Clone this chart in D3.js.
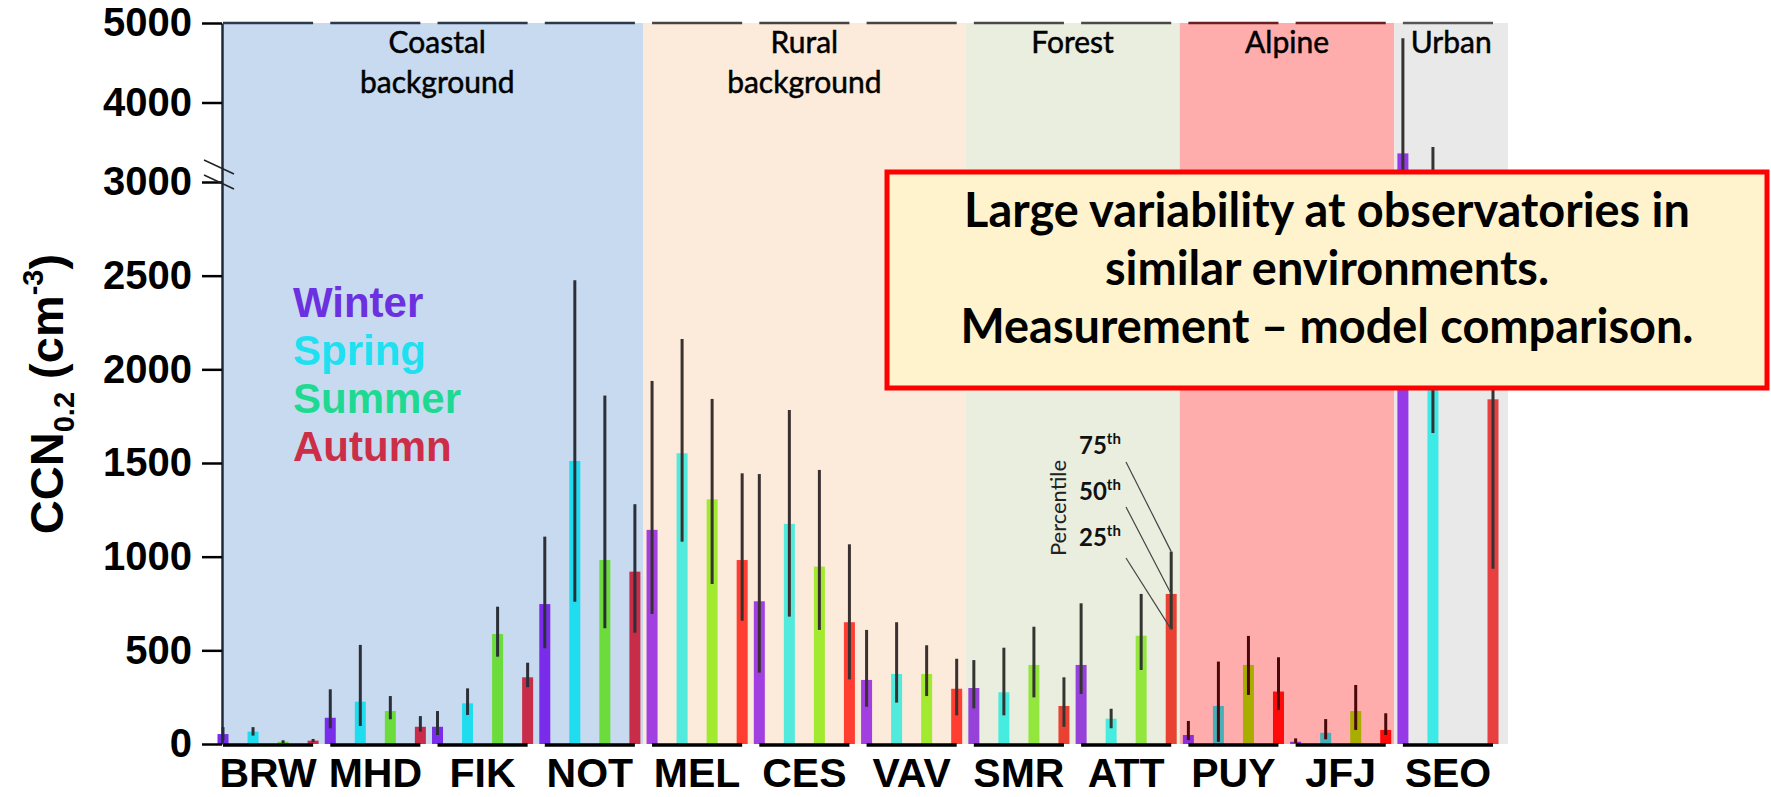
<!DOCTYPE html>
<html>
<head>
<meta charset="utf-8">
<script src="https://cdn.jsdelivr.net/npm/d3@7"></script>
<style>
body{margin:0;background:#fff;}
</style>
</head>
<body>
<svg id="chart"></svg>
<script>
// sites (x categories) and seasons
var sites=["BRW","MHD","FIK","NOT","MEL","CES","VAV","SMR","ATT","PUY","JFJ","SEO"];
var seasons=["Winter","Spring","Summer","Autumn"];
// environment groups
var regionLabels=[["Coastal","background"],["Rural","background"],["Forest"],["Alpine"],["Urban"]];
var regionOfSite=[0,0,0,0,1,1,1,2,2,3,3,4];
var yTicks=[0,500,1000,1500,2000,2500,3000,4000,5000];

// median (bar), 25th and 75th percentile (line), per site: [winter,spring,summer,autumn]
var p50=[[53,66,12,18],[140,226,176,92],[92,217,587,356],[747,1511,982,920],
    [1143,1552,1306,982],[762,1175,947,650],[342,374,374,295],[299,276,422,203],
    [422,135,578,801],[48,203,422,280],[12,60,176,75],[3360,2600,null,1840]];
var p25=[[20,45,5,10],[84,96,132,66],[48,155,466,303],[511,760,618,594],
    [694,1080,854,658],[381,680,609,345],[199,221,256,153],[190,153,249,92],
    [267,84,395,612],[21,12,262,181],[5,25,75,48],[2200,1660,null,935]];
var p75=[[90,90,20,27],[292,529,256,149],[176,297,733,434],[1107,2475,1860,1280],
    [1938,2162,1842,1445],[1441,1783,1463,1066],[609,650,527,455],[448,514,626,356],
    [751,188,801,1027],[123,440,577,463],[30,133,315,164],[4808,3440,null,2600]];

var boxLines=["Large variability at observatories in","similar environments.","Measurement \u2013 model comparison."];

// styles
var regionFill=["#C8DAEF","#FCEADB","#EAEEDF","#FFACAD","#E9E9E9"];
var barColors=[["#7A2CEB","#1FDCEF","#6CDB3C","#C92C48"],
    ["#A23FE0","#52EADC","#A2EA2F","#FF3D30"],
    ["#9642DA","#46ECE0","#93E63E","#EA4232"],
    ["#8C2FD6","#47AFB8","#A8AD00","#FF0A0A"],
    ["#9639E6","#3DEAE8","#8CE040","#E84040"]];
var legendColors=["#6B30E0","#1EE0F0","#1ED992","#CC2E48"];
var whiskerColor=["#2b2f38","#3a3030","#333630","#4a0808","#333"];
var topColor=["#2a3a4a","#4a4440","#4a4a44","#6a2020","#555"];

var W=1771,H=797;
var svg=d3.select("#chart").attr("width",W).attr("height",H);
svg.append("rect").attr("width",W).attr("height",H).attr("fill","#fff");

var y=d3.scaleLinear().domain([0,3000,5000]).range([744,182,23]);
var xBand=d3.scaleBand().domain(sites).range([223,1493]).paddingInner(0.16).paddingOuter(0);
var xSeason=d3.scalePoint().domain(seasons).range([0,xBand.bandwidth()]);
var gap=xBand.step()-xBand.bandwidth();
var barW=11;

// region backgrounds
var regionBounds=regionLabels.map(function(lab,r){
    var idx=regionOfSite.map(function(v,i){return v===r?i:-1}).filter(function(i){return i>=0});
    var left=xBand(sites[idx[0]])-gap/2;
    var right=xBand(sites[idx[idx.length-1]])+xBand.bandwidth()+gap/2;
    if(r===0) left=xBand(sites[0]);
    if(r===regionLabels.length-1) right=xBand(sites[idx[idx.length-1]])+xBand.bandwidth()+15;
    return {left:left,right:right,r:r,lab:lab};
});
svg.selectAll(".region").data(regionBounds).enter().append("rect")
    .attr("x",function(d){return d.left})
    .attr("y",y(5000))
    .attr("width",function(d){return d.right-d.left})
    .attr("height",y(0)-y(5000))
    .attr("fill",function(d){return regionFill[d.r]});

// region titles
regionBounds.forEach(function(d){
    var cxr=(d.left+d.right)/2+(d.r===0?4:0);
    var t=svg.append("text")
        .attr("x",cxr)
        .attr("y",53)
        .attr("text-anchor","middle")
        .attr("font-family","Lato")
        .attr("font-size",30)
        .attr("fill","#000")
        .attr("stroke","#000")
        .attr("stroke-width",0.5);
    d.lab.forEach(function(s,i){
        t.append("tspan").attr("x",cxr).attr("dy",i===0?0:40).text(s);
    });
});

// top segments per site
svg.selectAll(".topseg").data(sites).enter().append("line")
    .attr("x1",function(d){return xBand(d)})
    .attr("x2",function(d){return xBand(d)+xBand.bandwidth()})
    .attr("y1",y(5000)).attr("y2",y(5000))
    .attr("stroke",function(d,i){return topColor[regionOfSite[i]]})
    .attr("stroke-width",2.5);

// bars
var flat=[];
sites.forEach(function(s,i){
    seasons.forEach(function(se,j){
        if(p50[i][j]!==null) flat.push({site:s,i:i,j:j,season:se,med:p50[i][j],lo:p25[i][j],hi:p75[i][j]});
    });
});
var cx=function(d){return xBand(d.site)+xSeason(d.season)};

svg.selectAll(".bar").data(flat).enter().append("rect")
    .attr("x",function(d){return cx(d)-barW/2})
    .attr("y",function(d){return y(d.med)})
    .attr("width",barW)
    .attr("height",function(d){return y(0)-y(d.med)})
    .attr("fill",function(d){return barColors[regionOfSite[d.i]][d.j]});

svg.selectAll(".whisker").data(flat).enter().append("line")
    .attr("x1",cx).attr("x2",cx)
    .attr("y1",function(d){return y(d.lo)})
    .attr("y2",function(d){return y(d.hi)})
    .attr("stroke",function(d){return whiskerColor[regionOfSite[d.i]]})
    .attr("stroke-width",3);

// bottom segments
svg.selectAll(".botseg").data(sites).enter().append("line")
    .attr("x1",function(d){return xBand(d)})
    .attr("x2",function(d){return xBand(d)+xBand.bandwidth()})
    .attr("y1",y(0)+1).attr("y2",y(0)+1)
    .attr("stroke","#000")
    .attr("stroke-width",3.5);

// y axis
var yAxis=d3.axisLeft(y).tickValues(yTicks).tickFormat(d3.format("d"))
    .tickSize(20).tickSizeOuter(0).tickPadding(10);
var gy=svg.append("g").attr("transform","translate(222,0)").call(yAxis);
gy.select(".domain").attr("stroke","#1f2b3b").attr("stroke-width",2.5);
gy.selectAll(".tick line").attr("stroke","#000").attr("stroke-width",2.5);
gy.selectAll(".tick text")
    .attr("font-family","Liberation Sans")
    .attr("font-weight","bold")
    .attr("font-size",40)
    .attr("fill","#000");

// axis break marks
[0,15].forEach(function(o){
    svg.append("line")
        .attr("x1",204).attr("y1",y(3000)-22+o)
        .attr("x2",234).attr("y2",y(3000)-8+o)
        .attr("stroke","#222").attr("stroke-width",1.5);
});

// x axis labels
var xAxis=d3.axisBottom(xBand).tickSize(0).tickPadding(0);
var gx=svg.append("g").attr("transform","translate(0,"+(y(0)+14)+")").call(xAxis);
gx.select(".domain").remove();
gx.selectAll(".tick text")
    .attr("font-family","Liberation Sans")
    .attr("font-weight","bold")
    .attr("font-size",41)
    .attr("fill","#000")
    .attr("dy","0.71em");

// y axis title
var yt=svg.append("text")
    .attr("transform","translate(63,394) rotate(-90)")
    .attr("text-anchor","middle")
    .attr("font-family","Liberation Sans")
    .attr("font-weight","bold")
    .attr("font-size",47)
    .attr("fill","#000");
yt.append("tspan").text("CCN");
yt.append("tspan").attr("font-size",29).attr("dy",11).text("0.2");
yt.append("tspan").attr("dy",-11).text(" (cm");
yt.append("tspan").attr("font-size",29).attr("dy",-20).text("-3");
yt.append("tspan").attr("dy",20).text(")");

// legend
seasons.forEach(function(s,i){
    svg.append("text")
        .attr("x",293)
        .attr("y",317+i*48)
        .attr("font-family","Liberation Sans")
        .attr("font-weight","bold")
        .attr("font-size",42)
        .attr("fill",legendColors[i])
        .text(s);
});

// percentile annotation at ATT autumn
var attI=sites.indexOf("ATT");
var ax=xBand("ATT")+xSeason("Autumn");
svg.append("text")
    .attr("transform","translate(1066,508) rotate(-90)")
    .attr("text-anchor","middle")
    .attr("font-family","Lato")
    .attr("font-size",22)
    .attr("fill","#222")
    .text("Percentile");
var pct=[{t:"75",yy:454,ly:462,v:p75[attI][3]},{t:"50",yy:500,ly:507,v:p50[attI][3]},{t:"25",yy:546,ly:558,v:p25[attI][3]}];
pct.forEach(function(p){
    var t=svg.append("text").attr("x",1079).attr("y",p.yy)
        .attr("font-family","Lato").attr("font-weight","bold")
        .attr("font-size",24).attr("fill","#111");
    t.append("tspan").text(p.t);
    t.append("tspan").attr("font-size",15).attr("dy",-10).text("th");
    svg.append("line")
        .attr("x1",1126).attr("y1",p.ly)
        .attr("x2",ax).attr("y2",y(p.v))
        .attr("stroke","#444").attr("stroke-width",1.2);
});

// message box
svg.append("rect")
    .attr("x",887).attr("y",172)
    .attr("width",880).attr("height",216)
    .attr("fill","#FEF3CC")
    .attr("stroke","#FF0000")
    .attr("stroke-width",5);
var bt=svg.selectAll(".boxline").data(boxLines).enter().append("text")
    .attr("x",1327)
    .attr("y",function(d,i){return 227+i*58})
    .attr("text-anchor","middle")
    .attr("font-family","Lato")
    .attr("font-weight","bold")
    .attr("font-size",38)
    .attr("fill","#000")
    .text(function(d){return d});
// fit first line width to the box
var w0=bt.nodes()[0].getComputedTextLength();
if(w0>0) bt.attr("font-size",38*726/w0);
</script>
</body>
</html>
